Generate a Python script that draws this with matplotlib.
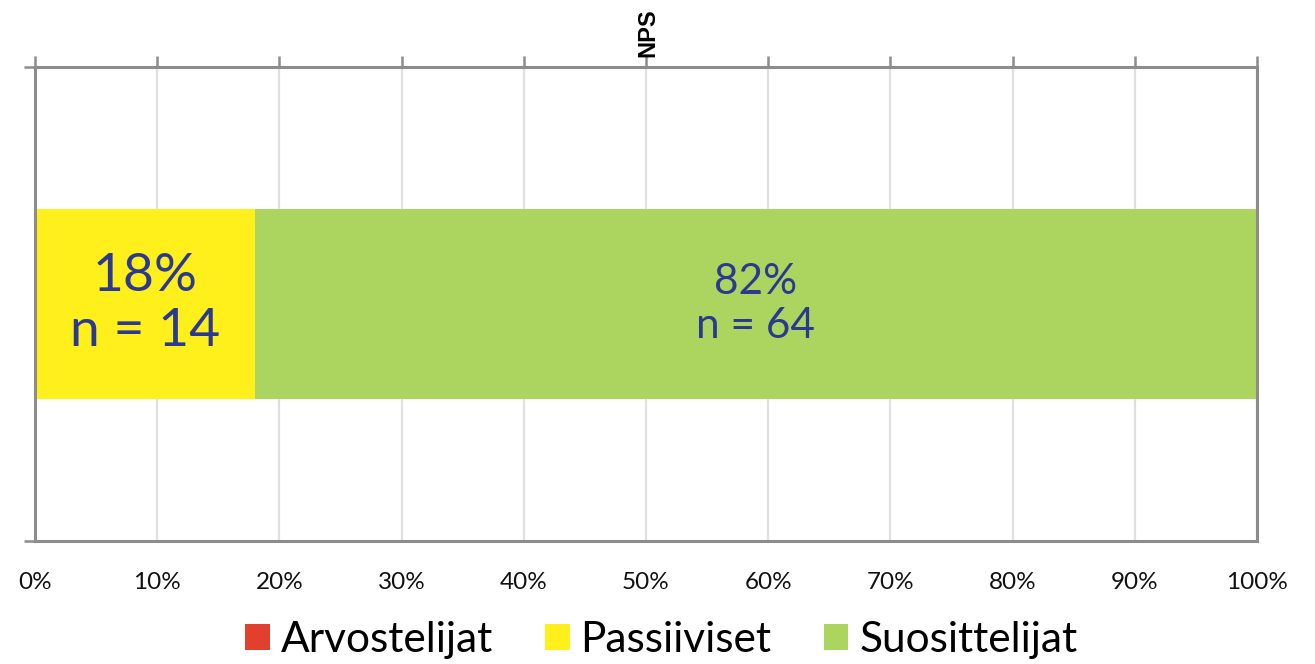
import matplotlib
matplotlib.use("Agg")
import matplotlib.pyplot as plt
from matplotlib.patches import Patch
import numpy as np

plt.rcParams['font.family'] = ['Lato', 'DejaVu Sans']

title = "NPS"
series = ["Arvostelijat", "Passiiviset", "Suosittelijat"]
shares = [0.0, 18.0, 82.0]
counts = [0, 14, 64]
colors = ["#E2402E", "#FFF01C", "#ABD55F"]
label_sizes = [30, 38.5, 30.5]
xticks = list(range(0, 101, 10))
xtick_labels = [f"{v}%" for v in xticks]

fig = plt.figure(figsize=(13.15, 6.64), dpi=100)
ax = fig.add_axes([35/1315, 1-541/664, (1257-35)/1315, (541-67)/664])

left = 0.0
for name, val, n, col, fs in zip(series, shares, counts, colors, label_sizes):
    ax.barh(0, val, left=left, height=0.4, color=col, edgecolor='none', zorder=2)
    if val > 0:
        ax.text(left + val/2, 0, f"{val:.0f}%\nn = {n}", ha='center', va='center',
                color="#2B3990", fontsize=fs, linespacing=1.2, zorder=3)
    left += val

ax.set_xlim(0, 100)
ax.set_ylim(-0.5, 0.5)
ax.set_xticks(xticks)
ax.set_xticklabels(xtick_labels, fontsize=17.5, color="#111111")
ax.tick_params(axis='x', bottom=False, top=True, length=8, width=1.8, color="#8C8C8C",
               labelbottom=True, labeltop=False, pad=14)
ax.set_yticks([-0.5, 0.5])
ax.set_yticklabels([])
ax.tick_params(axis='y', left=True, length=8, width=1.8, color="#8C8C8C", direction='out')
ax.grid(axis='x', color="#E0E0E0", linewidth=1.6, zorder=0)
ax.set_axisbelow(True)
for s in ax.spines.values():
    s.set_color("#8C8C8C")
    s.set_linewidth(2.2)

fig.text(648/1315, 1-33/664, title, rotation=90, ha='center', va='center',
         fontsize=17, fontweight='bold', color="#000000",
         family=['Liberation Sans', 'DejaVu Sans'])

handles = [Patch(facecolor=c, edgecolor='none', label=s) for s, c in zip(series, colors)]
leg = fig.legend(handles=handles, loc='center', bbox_to_anchor=(0.503, 1-640/664), ncol=3,
                 frameon=False, fontsize=30.5, handlelength=0.57, handleheight=0.57,
                 handletextpad=0.26, columnspacing=1.24)

fig.savefig("out.png", dpi=100)
